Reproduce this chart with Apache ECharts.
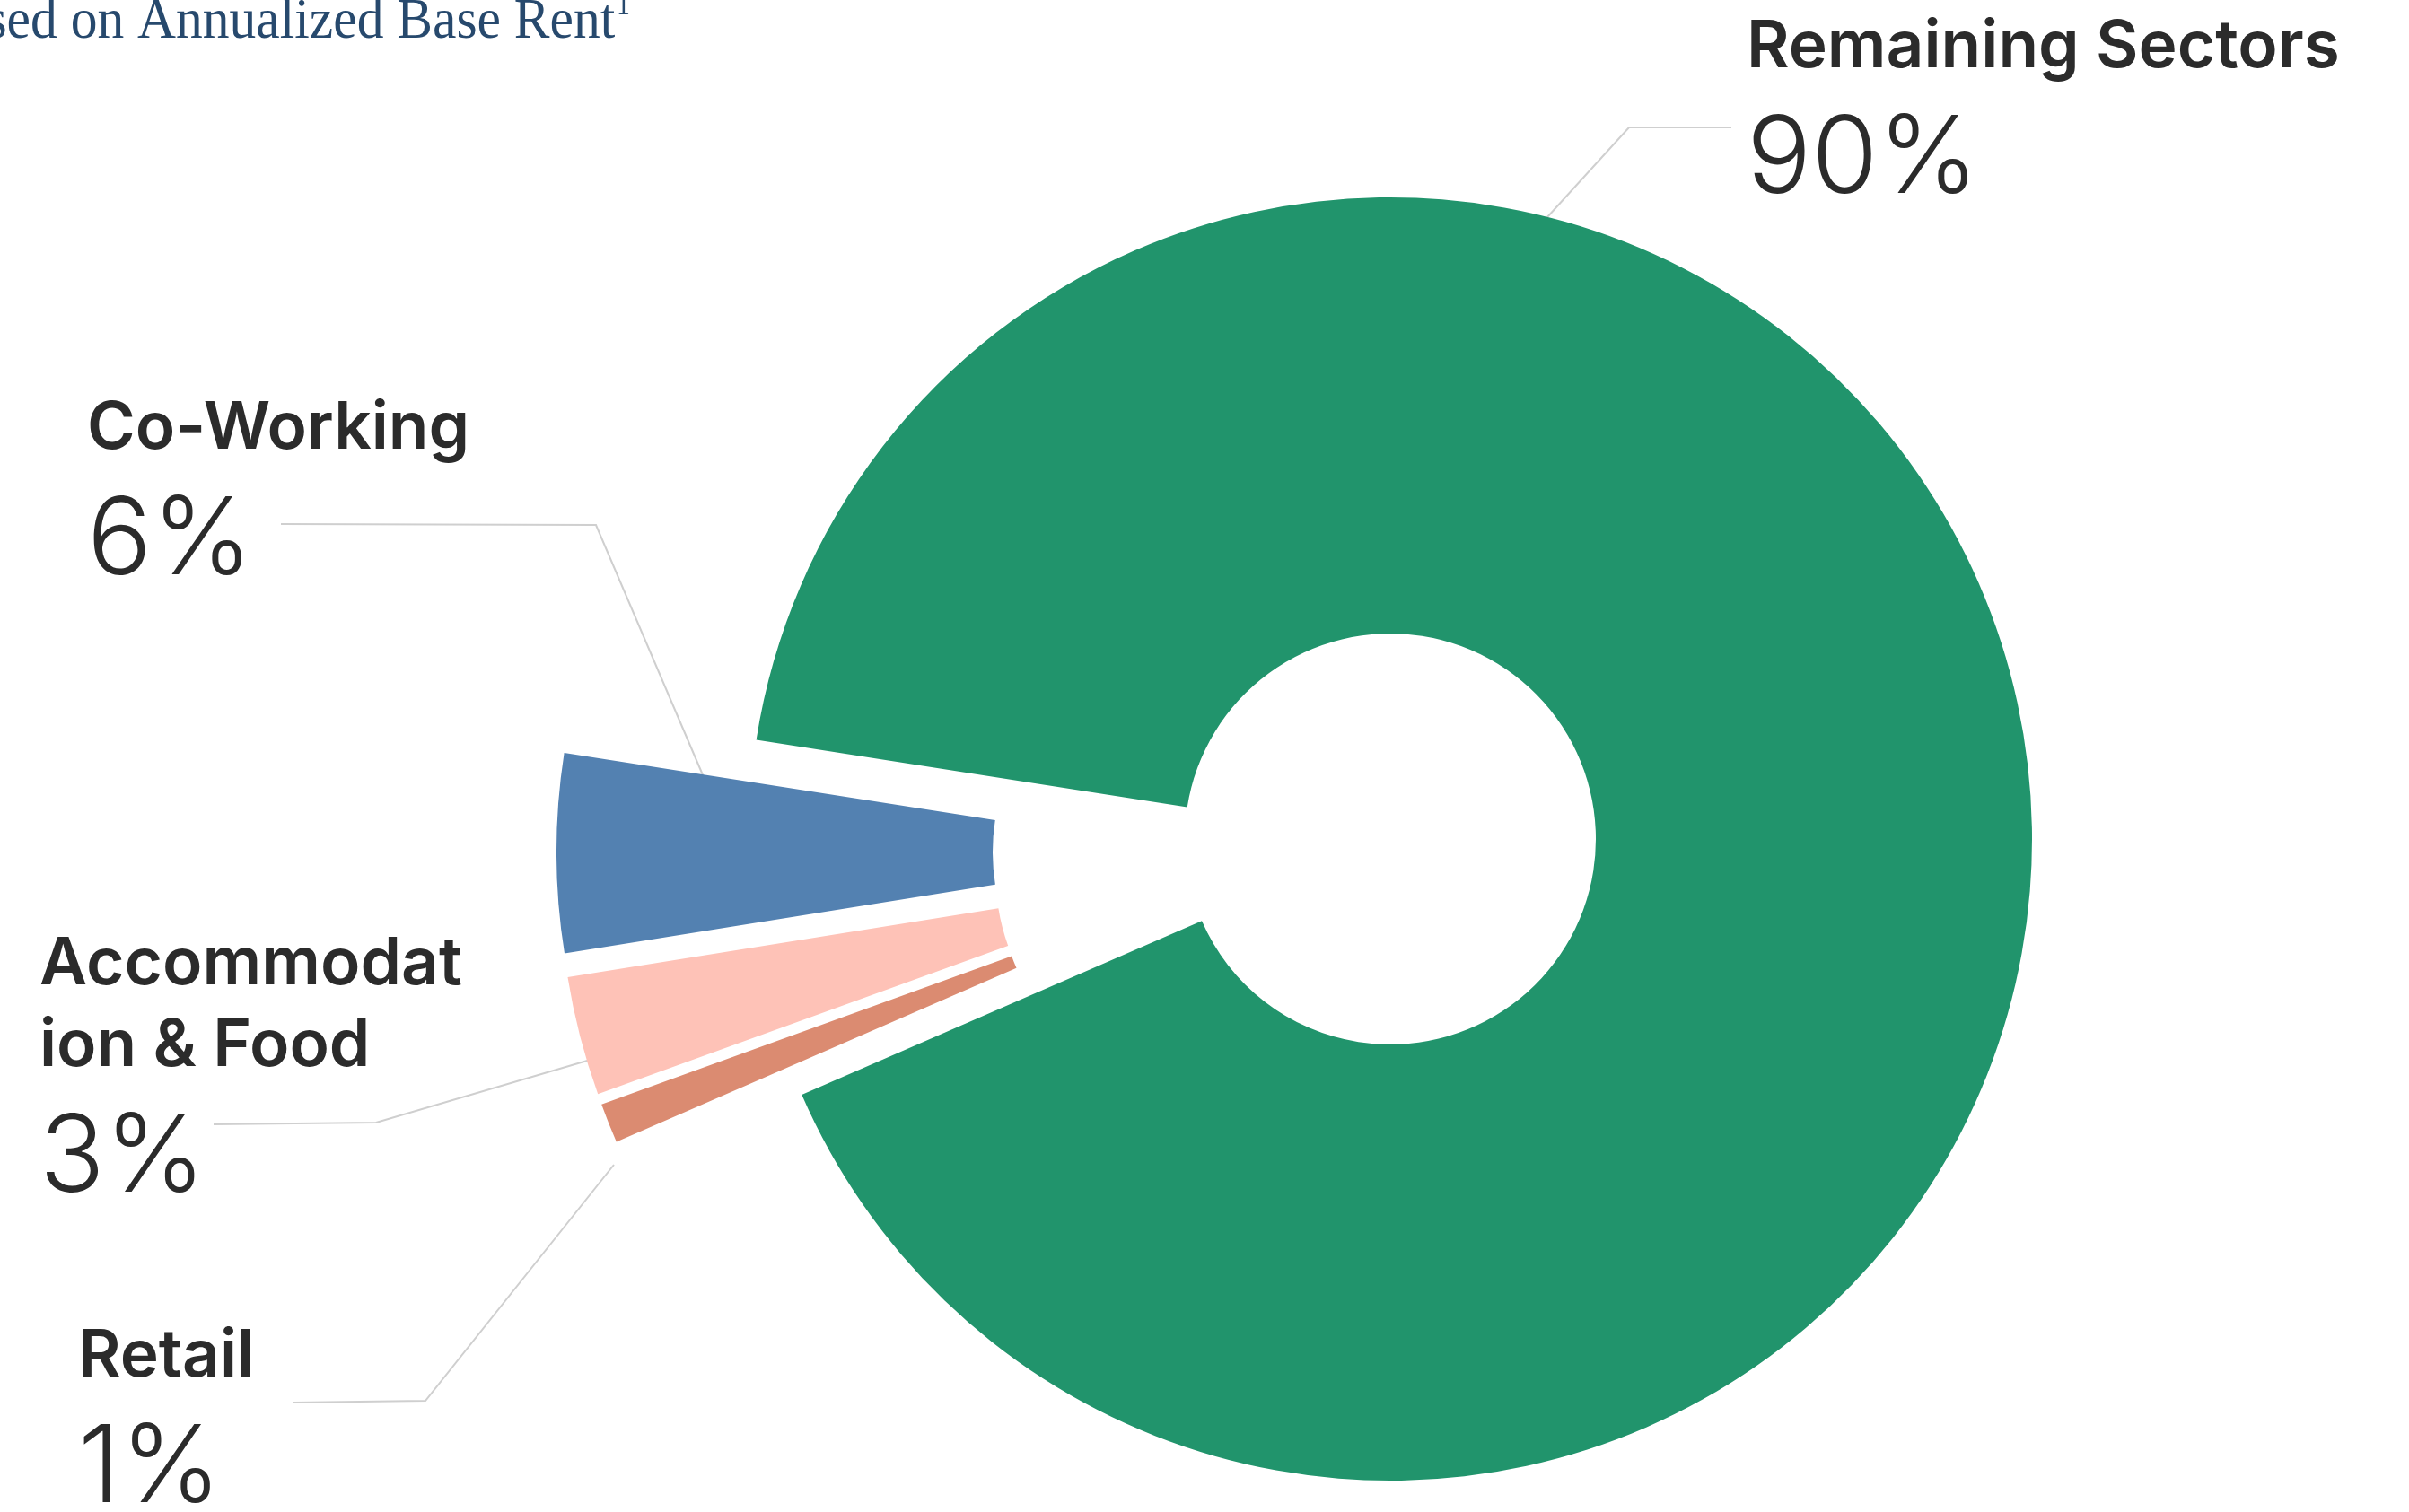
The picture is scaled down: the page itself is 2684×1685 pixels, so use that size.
<!DOCTYPE html>
<html>
<head>
<meta charset="utf-8">
<script src="https://cdn.jsdelivr.net/npm/echarts@6/dist/echarts.min.js"></script>
<style>
html,body{margin:0;padding:0;background:#fff;}
#c{width:2684px;height:1685px;}
</style>
</head>
<body>
<div id="c"></div>
<script>
// ---- data ----
const sectors = ['Remaining Sectors', 'Co-Working', 'Accommodat\nion & Food', 'Retail'];
const shares = [91, 5, 3, 1];               // slice sizes
const shareLabels = ['90%', '6%', '3%', '1%']; // printed percentages
const titleText = 'Based on Annualized Base Rent';

// ---- style / layout ----
const colors = ['#21946c', '#5381b1', '#fec2b7', '#db8b71'];
const centers = [[1549, 935], [1335, 949.5], [1338.5, 976], [1342.5, 987.5]];
const labelPos = [[1946, 8], [97, 433], [44, 1030], [87, 1467]];
const linePts = [
  [[1703, 265], [1815, 142], [1929, 142]],
  [[784, 866], [664, 585], [313, 584]],
  [[685, 1173], [419, 1251], [238, 1253]],
  [[684, 1298], [474, 1561], [327, 1563]]
];

const chart = echarts.init(document.getElementById('c'), null, {renderer: 'canvas'});

const series = sectors.map((_, s) => ({
  type: 'pie',
  silent: true,
  animation: false,
  clockwise: false,
  startAngle: 203.5,
  center: centers[s],
  radius: [229, 715],
  avoidLabelOverlap: false,
  label: {
    show: true,
    position: 'outside',
    formatter: p => '{n|' + p.name + '}\n{p|' + shareLabels[p.dataIndex] + '}',
    rich: {
      n: {fontFamily: 'Inter', fontWeight: 600, fontSize: 73, lineHeight: 91, color: '#2b2b2b'},
      p: {fontFamily: 'Inter', fontWeight: 300, fontSize: 120, lineHeight: 160, color: '#2b2b2b'}
    }
  },
  labelLine: {show: true, lineStyle: {color: '#cfcfcf', width: 2}},
  labelLayout: () => ({
    x: labelPos[s][0], y: labelPos[s][1], align: 'left', verticalAlign: 'top',
    labelLinePoints: linePts[s]
  }),
  data: sectors.map((name, i) => ({
    name: name,
    value: shares[i],
    itemStyle: {color: i === s ? colors[i] : 'rgba(0,0,0,0)'},
    label: {show: i === s},
    labelLine: {show: i === s}
  }))
}));

chart.setOption({
  animation: false,
  backgroundColor: '#ffffff',
  graphic: [{
    type: 'text',
    x: 702, y: -8,
    scaleX: 0.93,
    originX: 0, originY: 0,
    style: {
      text: '{t|' + titleText + '}{s|1}',
      align: 'right',
      verticalAlign: 'top',
      rich: {
        t: {fontFamily: 'Liberation Serif', fontSize: 64, fill: '#27496d', lineHeight: 66},
        s: {fontFamily: 'Liberation Serif', fontSize: 32, fill: '#27496d', verticalAlign: 'top', lineHeight: 66, padding: [0, 0, 28, 2]}
      }
    }
  }],
  series: series
});
</script>
</body>
</html>
